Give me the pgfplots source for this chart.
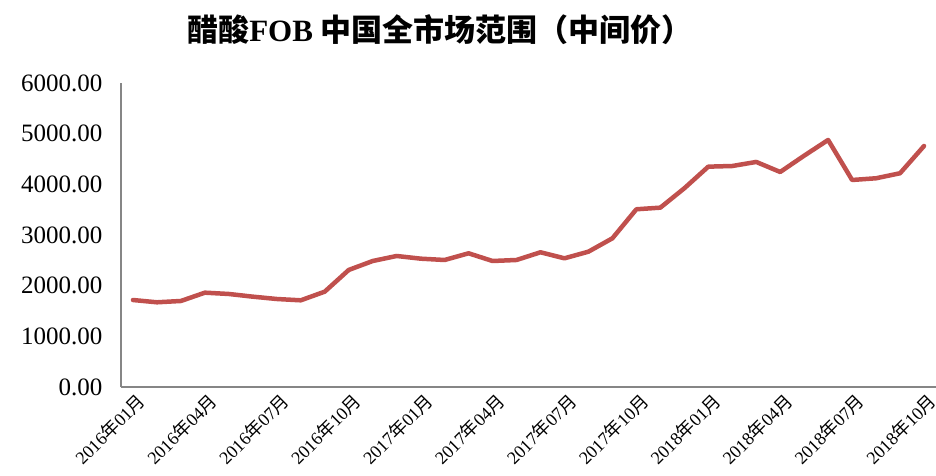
\documentclass[border=0pt]{standalone}
\usepackage{pgfplots}
\pgfplotsset{compat=1.18}
\usepackage{fontspec}
\setmainfont{Liberation Serif}
\newfontfamily\cjk{Noto Sans CJK SC}
\newcommand{\ym}[2]{#1{\cjk 年}#2{\cjk 月}}
\definecolor{linered}{HTML}{C0504D}
\definecolor{axgray}{HTML}{868686}
\begin{document}
\begin{tikzpicture}
\useasboundingbox (0,0) rectangle (936pt,475pt);
\begin{axis}[
  at={(121pt,88pt)}, anchor=south west,
  scale only axis, width=815pt, height=304pt,
  xmin=-0.5, xmax=33.5, ymin=0, ymax=6000,
  axis lines*=left,
  axis line style={axgray, line width=1.2pt},
  major tick length=0pt,
  ytick={0,1000,...,6000},
  xtick={0,3,...,33},
  xticklabels={\ym{2016}{01},\ym{2016}{04},\ym{2016}{07},\ym{2016}{10},\ym{2017}{01},\ym{2017}{04},\ym{2017}{07},\ym{2017}{10},\ym{2018}{01},\ym{2018}{04},\ym{2018}{07},\ym{2018}{10}},
  xticklabel style={rotate=45, anchor=north east, font=\fontsize{18}{20}\selectfont, inner sep=1pt, yshift=-4pt},
  yticklabel style={font=\fontsize{25}{27}\selectfont, xshift=-15pt},
  /pgf/number format/assume math mode=true,
  yticklabel={\pgfmathprintnumber[fixed, fixed zerofill, precision=2, 1000 sep={}]{\tick}},
  scaled y ticks=false,
  clip=false,
]
\addplot[linered, line width=4.5pt, line join=round, line cap=round] coordinates {
(0,1717) (1,1672) (2,1698) (3,1862) (4,1836) (5,1783) (6,1737) (7,1711)
(8,1882) (9,2310) (10,2487) (11,2586) (12,2533) (13,2507) (14,2639) (15,2487)
(16,2507) (17,2659) (18,2540) (19,2671) (20,2935) (21,3508) (22,3540) (23,3922)
(24,4349) (25,4362) (26,4442) (27,4244) (28,4566) (29,4876) (30,4086) (31,4120)
(32,4219) (33,4757)
};
\end{axis}
\node[font=\fontsize{31}{34}\selectfont\bfseries] at (440pt,445pt) {{\cjk 醋酸}FOB {\cjk 中国全市场范围（中间价）}};
\end{tikzpicture}
\end{document}
